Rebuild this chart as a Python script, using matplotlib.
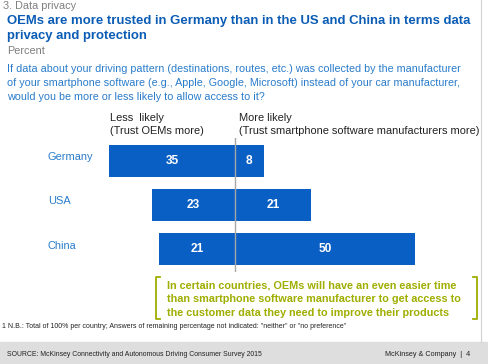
import matplotlib
matplotlib.use('Agg')
import matplotlib.pyplot as plt
from matplotlib.patches import Rectangle

plt.rcParams['font.family'] = ['Liberation Sans', 'DejaVu Sans']

# Datos
countries = ['Germany', 'USA', 'China']
less_likely = [35, 23, 21]
more_likely = [8, 21, 50]

BAR = '#0a5fc4'
TITLE = '#0b5cb5'
QUEST = '#2a7ccb'
GRAY = '#7f7f7f'
OLIVE = '#9fae00'

W, H = 489, 364
fig = plt.figure(figsize=(W / 100, H / 100), dpi=100)


def px(x, y):
    # pixeles (arriba-izquierda) -> coordenadas de figura
    return x / W, 1 - y / H


def ftext(x, y, s, **kw):
    fx, fy = px(x, y)
    fig.text(fx, fy, s, va='center', **kw)


# Encabezado
ftext(3, 6, '3. Data privacy', color=GRAY, fontsize=7.8)
ftext(7, 21, 'OEMs are more trusted in Germany than in the US and China in terms data',
      color=TITLE, fontsize=9.45, fontweight='bold')
ftext(7, 36, 'privacy and protection', color=TITLE, fontsize=9.45, fontweight='bold')
ftext(7, 51, 'Percent', color=GRAY, fontsize=7.8)
question = ['If data about your driving pattern (destinations, routes, etc.) was collected by the manufacturer',
            'of your smartphone software (e.g., Apple, Google, Microsoft) instead of your car manufacturer,',
            'would you be more or less likely to allow access to it?']
for i, line in enumerate(question):
    ftext(7, 69 + 14 * i, line, color=QUEST, fontsize=7.72)

ftext(110, 118, 'Less  likely', color='#222222', fontsize=7.95)
ftext(110, 131, '(Trust OEMs more)', color='#222222', fontsize=7.95)
ftext(239, 118, 'More likely', color='#222222', fontsize=7.95)
ftext(239, 131, '(Trust smartphone software manufacturers more)', color='#222222',
      fontsize=7.95)

# Barras
x0, x1, y0, y1 = 100, 430, 138, 272
ax = fig.add_axes([x0 / W, 1 - y1 / H, (x1 - x0) / W, (y1 - y0) / H])
scale = 3.6
ax.set_xlim((x0 - 235) / scale, (x1 - 235) / scale)
ax.set_ylim(2.52, -0.514)
ax.axis('off')

ypos = list(range(len(countries)))
ax.barh(ypos, [-v for v in less_likely], height=0.72, color=BAR)
ax.barh(ypos, more_likely, height=0.72, color=BAR)
ax.axvline(0, color='#a6a6a6', lw=1)

for y, c, l, m in zip(ypos, countries, less_likely, more_likely):
    ax.text(-l / 2, y, str(l), color='white', fontsize=8.6, fontweight='bold',
            ha='center', va='center')
    ax.text(m / 2, y, str(m), color='white', fontsize=8.6, fontweight='bold',
            ha='center', va='center')
    ax.text((48 - x0) / (x1 - x0), y - 0.08, c, color=QUEST, fontsize=7.9,
            ha='left', va='center', transform=ax.get_yaxis_transform())

# Recuadro con corchetes
for bx, sign in [(156, 1), (477, -1)]:
    fx, fyt = px(bx, 277)
    _, fyb = px(bx, 319)
    dx = sign * 4 / W
    fig.add_artist(plt.Line2D([fx + dx, fx, fx, fx + dx], [fyt, fyt, fyb, fyb],
                              color=OLIVE, lw=1.3))
callout = ['In certain countries, OEMs will have an even easier time',
           'than smartphone software manufacturer to get access to',
           'the customer data they need to improve their products']
for i, line in enumerate(callout):
    ftext(167, 285 + 14 * i, line, color=OLIVE, fontsize=7.85, fontweight='bold')

ftext(2, 327, '1 N.B.: Total of 100% per country; Answers of remaining percentage not indicated: '
      '"neither" or "no preference"', color='#222222', fontsize=5.0)

# Pie de pagina
fx, fy = px(0, 364)
fig.add_artist(Rectangle((fx, fy), 1, 22 / H, color='#dedede', zorder=0))
ftext(7, 354, 'SOURCE: McKinsey Connectivity and Autonomous Driving Consumer Survey 2015',
      color='#222222', fontsize=4.95)
ftext(385, 354, 'McKinsey & Company  |  4', color='#222222', fontsize=5.2)

# borde derecho
fig.add_artist(plt.Line2D([481 / W, 481 / W], [1 - 342 / H, 1], color='#d0d0d0', lw=0.8))

fig.savefig('out.png', dpi=100)
